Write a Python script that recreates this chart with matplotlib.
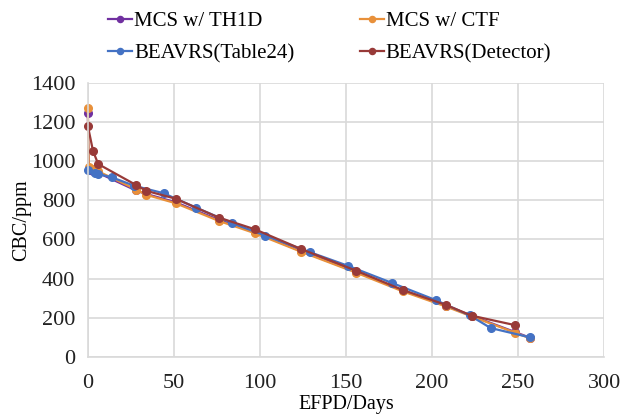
import numpy as np
import matplotlib.pyplot as plt

plt.rcParams['font.family'] = ['Liberation Serif', 'DejaVu Serif']

# MCS calculations share the same burnup steps
MCS_DAYS = [0, 0.5, 3, 6, 28, 34, 51, 76, 97, 124, 156, 183, 208, 223, 248, 257]
TH1D_PPM = [1243, 956, 948, 940, 850, 832, 790, 700, 638, 540, 435, 340, 262, 210, 128, 98]
CTF_PPM = [1272, 968, 958, 948, 855, 828, 785, 695, 632, 537, 430, 335, 258, 207, 125, 95]

TABLE24_DAYS = [0, 4, 6, 14, 27, 44, 63, 84, 103, 129, 151, 177, 202, 222, 234, 257]
TABLE24_PPM = [954, 940, 934, 917, 874, 836, 762, 683, 620, 535, 466, 377, 291, 212, 148, 100]

DETECTOR_DAYS = [0, 3, 6, 28, 34, 51, 76, 97, 124, 156, 183, 208, 223, 248]
DETECTOR_PPM = [1180, 1052, 985, 878, 848, 808, 712, 652, 551, 440, 342, 266, 211, 163]

fig = plt.figure(figsize=(6.32, 4.2), dpi=100)
ax = fig.add_axes([0.139, 0.15, 0.817, 0.653])

style = dict(marker='o', markersize=5.5, linewidth=1.6, clip_on=False)
l1, = ax.plot(MCS_DAYS, TH1D_PPM, color='#7030A0', label='MCS w/ TH1D', **style)
l2, = ax.plot(MCS_DAYS, CTF_PPM, color='#E8903A', label='MCS w/ CTF', **style)
l3, = ax.plot(TABLE24_DAYS, TABLE24_PPM, color='#4472C4', label='BEAVRS(Table24)', **style)
l4, = ax.plot(DETECTOR_DAYS, DETECTOR_PPM, color='#983A38', label='BEAVRS(Detector)', **style)

ax.set_xlim(0, 300)
ax.set_ylim(0, 1400)
ax.set_xticks(np.arange(0, 301, 50))
ax.set_yticks(np.arange(0, 1401, 200))
ax.grid(True, color='#D9D9D9', linewidth=1.2)
ax.set_axisbelow(True)
for s in ['top', 'right']:
    ax.spines[s].set_visible(False)
for s in ['left', 'bottom']:
    ax.spines[s].set_color('#D9D9D9')
    ax.spines[s].set_linewidth(1.2)
ax.tick_params(length=0, labelsize=16, colors='#222222')
ax.tick_params(axis='x', pad=12)
ax.tick_params(axis='y', pad=9)
ax.set_xlabel('EFPD/Days', fontsize=14.5, va='center')
ax.set_ylabel('CBC/ppm', fontsize=14.5, va='center')
ax.xaxis.set_label_coords(0.5, -0.175)
ax.yaxis.set_label_coords(-0.128, 0.5)

fig.legend(handles=[l1, l3, l2, l4], ncol=2, loc='upper left',
           bbox_to_anchor=(0.141, 1.017), frameon=False, fontsize=15,
           markerscale=0.8, handlelength=1.15, handletextpad=0.1,
           labelspacing=0.6, columnspacing=3.15)

fig.savefig('out.png', dpi=100)
